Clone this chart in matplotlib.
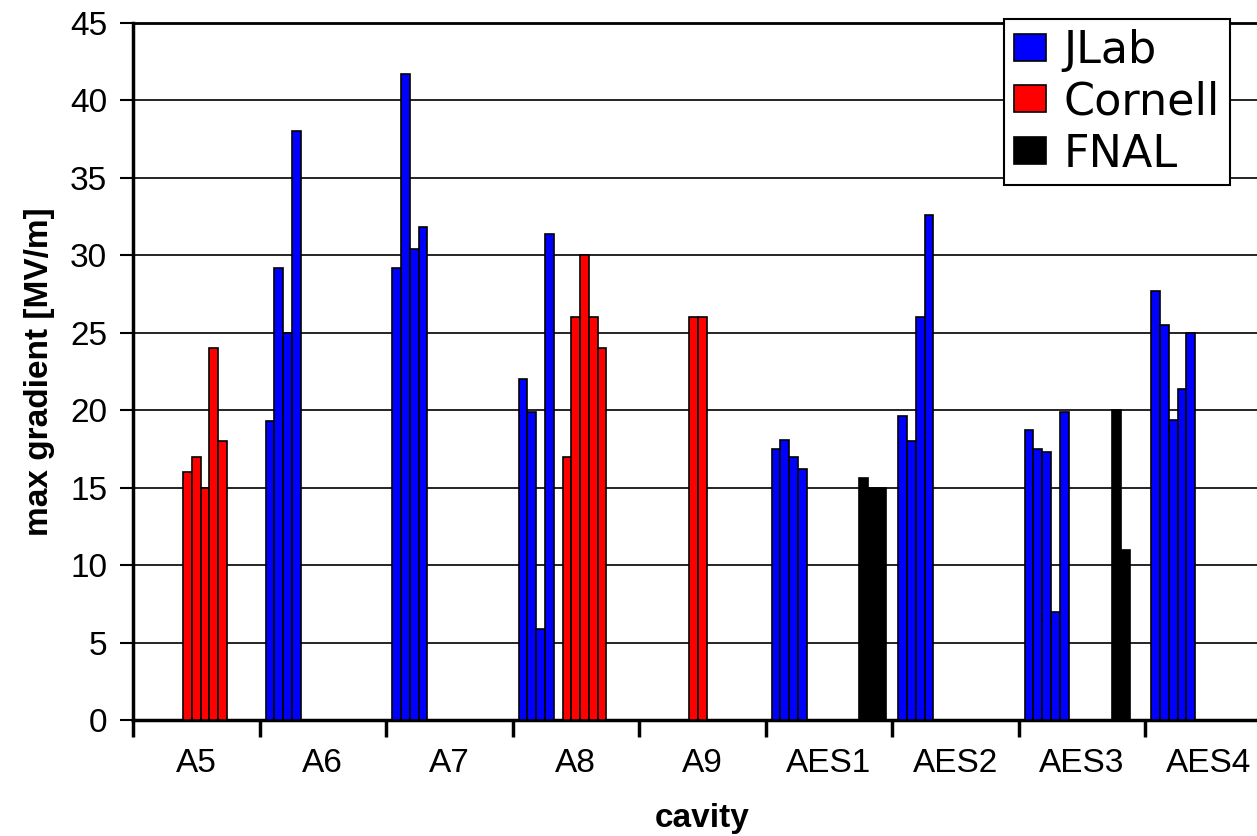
import matplotlib
matplotlib.use("Agg")
import matplotlib.pyplot as plt
from matplotlib.patches import Patch

plt.rcParams["font.family"] = ["Liberation Sans", "DejaVu Sans"]

cavities = ["A5", "A6", "A7", "A8", "A9", "AES1", "AES2", "AES3", "AES4"]

# max gradient [MV/m] per cavity, one value per test
jlab = [[], [19.3, 29.2, 25.0, 38.0], [29.2, 41.7, 30.4, 31.8],
        [22.0, 19.9, 5.9, 31.4], [], [17.5, 18.1, 17.0, 16.2],
        [19.6, 18.0, 26.0, 32.6], [18.7, 17.5, 17.3, 7.0, 19.9],
        [27.7, 25.5, 19.4, 21.4, 25.0]]
cornell = [[16.0, 17.0, 15.0, 24.0, 18.0], [], [],
           [17.0, 26.0, 30.0, 26.0, 24.0], [26.0, 26.0], [], [], [], []]
fnal = [[], [], [], [], [], [15.6, 15.0, 15.0], [], [20.0, 11.0], []]

labs = ["JLab", "Cornell", "FNAL"]
colors = ["#0000FF", "#FF0000", "#000000"]
first_slot = [0, 5, 10]
N_SLOTS = 13
W = 1.0 / (N_SLOTS + 1.4)
PAD = 0.7 * W

fig = plt.figure(figsize=(12.57, 8.36), dpi=100)
ax = fig.add_axes([133 / 1257, 116 / 836, 9 * 126.5 / 1257, 697 / 836])

for series, color, s0 in zip([jlab, cornell, fnal], colors, first_slot):
    xs, hs = [], []
    for i, vals in enumerate(series):
        for k, v in enumerate(vals):
            xs.append(i + PAD + (s0 + k + 0.5) * W)
            hs.append(v)
    ax.bar(xs, hs, width=W, color=color, edgecolor="black", linewidth=1.2,
           zorder=3)

ax.set_xlim(0, len(cavities))
ax.set_ylim(0, 45)
ax.set_yticks(range(0, 46, 5))
ax.yaxis.grid(True, color="black", linewidth=1.2)
ax.set_axisbelow(True)

ax.set_xticks(range(len(cavities) + 1))
ax.set_xticklabels([])
ax.set_xticks([i + 0.5 for i in range(len(cavities))], minor=True)
ax.set_xticklabels(cavities, minor=True)
ax.tick_params(axis="x", which="major", length=12, width=2.5,
               direction="out")
ax.tick_params(axis="x", which="minor", length=0, pad=20, labelsize=24)
ax.tick_params(axis="y", length=9.5, width=1.5, pad=9, labelsize=24)

for side in ("left", "bottom"):
    ax.spines[side].set_linewidth(2.5)
ax.spines["top"].set_linewidth(2.0)
ax.spines["right"].set_visible(False)

fig.text(702 / 1257, 1 - 818 / 836, "cavity", fontsize=24,
         fontweight="bold", ha="center", va="center")
fig.text(40 / 1257, 1 - 372 / 836, "max gradient [MV/m]", fontsize=24,
         fontweight="bold", ha="center", va="center", rotation=90)

handles = [Patch(facecolor=c, edgecolor="black", linewidth=1.2)
           for c in colors]
leg = ax.legend(handles, labs, loc="upper left",
                bbox_to_anchor=(1004 / 1257, 1 - 19 / 836),
                bbox_transform=fig.transFigure, borderaxespad=0,
                prop={"family": "DejaVu Sans", "size": 32},
                handlelength=0.72, handleheight=0.56, handletextpad=0.4,
                labelspacing=0.2, borderpad=0.22, fancybox=False,
                framealpha=1, edgecolor="black")
leg.get_frame().set_linewidth(1.5)

fig.savefig("out.png")
